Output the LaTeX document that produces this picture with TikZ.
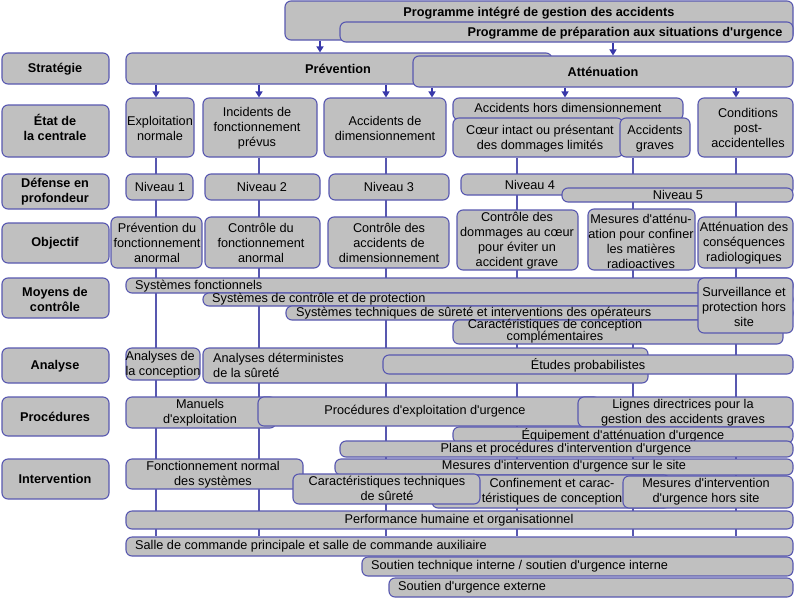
\documentclass[tikz,border=0pt]{standalone}
\usepackage{fontspec}
\setmainfont{Liberation Sans}[Ligatures=TeXOff]
\usetikzlibrary{fit,arrows.meta}
\definecolor{bfill}{HTML}{C0C0C0}
\definecolor{bline}{HTML}{5858B0}
\definecolor{barr}{HTML}{3838AA}
\pgfdeclarelayer{bgw}
\pgfdeclarelayer{bgl}
\pgfsetlayers{bgw,bgl,main}
\tikzset{
  boxst/.style={draw=bline, fill=bfill, line width=1.1pt, rounded corners=6pt, inner sep=0pt},
  txt/.style={inner sep=0pt, align=center, font=\fontsize{12.7}{15}\selectfont},
  lbl/.style={inner sep=0pt, align=center, font=\fontsize{12.7}{15}\selectfont\bfseries},
  arr/.style={draw=barr, line width=1.5pt, -{Triangle[width=7pt,length=6pt]}},
  vl/.style={draw=bline, line width=1.1pt},
}
\newcommand\bx[9][txt]{%
  \node[boxst, fit={(#3,#4) (#5,#6)}] (#2) {};
  \node[#1] (#2-t) at (#7,#8) {#9};
}
\begin{document}
\begin{tikzpicture}[x=1pt,y=-1pt]
\useasboundingbox (0,0) rectangle (800,603);
\begin{pgfonlayer}{bgw}
\fill[white] (0,0) rectangle (800,603);
\end{pgfonlayer}
% left labels
\bx[lbl]{lstrat}{2}{53}{109}{84}{55}{69}{Stratégie}
\bx[lbl]{letat}{2}{105}{109}{157}{55}{127}{État de\\la centrale}
\bx[lbl]{ldef}{2}{174}{109}{209}{55}{192}{Défense en\\profondeur}
\bx[lbl]{lobj}{2}{223}{109}{263}{55}{243}{Objectif}
\bx[lbl]{lmoy}{2}{278}{109}{318}{55}{299}{Moyens de\\contrôle}
\bx[lbl]{lana}{2}{348}{109}{383}{55}{366}{Analyse}
\bx[lbl]{lpro}{2}{397}{109}{436}{55}{417}{Procédures}
\bx[lbl]{lint}{2}{459}{109}{499}{55}{479}{Intervention}
% top
\bx[lbl]{prog1}{285}{1}{793}{40}{539}{13}{Programme intégré de gestion des accidents}
\bx[lbl]{prog2}{340}{22}{793}{42}{625}{33}{Programme de préparation aux situations d'urgence}
\bx[lbl]{prev}{126}{53}{552}{84}{338}{69}{Prévention}
\bx[lbl]{att}{413}{56}{793}{87}{603}{72}{Atténuation}
% state
\bx{expl}{126}{98}{194}{157}{160}{128}{Exploitation\\normale}
\bx{inc}{203}{98}{317}{157}{257}{128}{Incidents de\\fonctionnement\\prévus}
\bx{adim}{324}{98}{446}{157}{385}{128}{Accidents de\\dimensionnement}
\bx{hdim}{453}{98}{683}{120}{568}{108}{Accidents hors dimensionnement}
\bx{coeur}{453}{118}{623}{157}{540}{138.5}{Cœur intact ou présentant\\des dommages limités}
\bx{grav}{620}{118}{690}{157}{655}{138.5}{Accidents\\graves}
\bx{cond}{698}{98}{793}{157}{748}{128}{Conditions\\post-\\accidentelles}
% levels
\bx{n1}{126}{174}{193}{200}{160}{187}{Niveau 1}
\bx{n2}{205}{174}{320}{200}{262}{187}{Niveau 2}
\bx{n3}{329}{174}{449}{200}{389}{187}{Niveau 3}
\bx{n4}{461}{174}{793}{195}{530}{185}{Niveau 4}
\bx{n5}{562}{188}{793}{202}{678}{195}{Niveau 5}
% objectives
\bx{o1}{111}{217}{202}{268}{157}{243}{Prévention du\\fonctionnement\\anormal}
\bx{o2}{205}{217}{320}{268}{261}{243}{Contrôle du\\fonctionnement\\anormal}
\bx{o3}{328}{217}{449}{268}{389}{243}{Contrôle des\\accidents de\\dimensionnement}
\bx{o4}{457}{210}{578}{270}{517}{241}{Contrôle des\\dommages au cœur\\pour éviter un\\accident grave}
\bx{o5}{588}{209}{695}{270}{641}{241}{Mesures d'atténu-\\ation pour confiner\\les matières\\radioactives}
\bx{o6}{698}{217}{793}{268}{744}{243}{Atténuation des\\conséquences\\radiologiques}
% means
\bx[txt,anchor=west]{sf}{126}{278}{793}{293}{135}{286}{Systèmes fonctionnels}
\bx[txt,anchor=west]{scp}{203}{293}{793}{306}{212}{299.5}{Systèmes de contrôle et de protection}
\bx[txt,anchor=west]{sts}{286}{306}{793}{320}{296}{313}{Systèmes techniques de sûreté et interventions des opérateurs}
\bx[txt,font=\fontsize{12.7}{12}\selectfont]{ccc}{453}{320}{783}{344}{555}{331.5}{Caractéristiques de conception\\complémentaires}
\bx{surv}{698}{278}{793}{333}{744}{307}{Surveillance et\\protection hors\\site}
% analysis
\bx[txt,align=left]{anc}{126}{348}{200}{380}{163}{364.5}{Analyses de\\la conception}
\bx[txt,align=left,anchor=west]{andet}{203}{348}{648}{383}{213}{365.5}{Analyses déterministes\\de la sûreté}
\bx{etud}{383}{355}{793}{374}{588}{365}{Études probabilistes}
% procedures
\bx{man}{126}{397}{276}{428}{200}{412.5}{Manuels\\d'exploitation}
\bx{peu}{258}{397}{600}{426}{425}{411}{Procédures d'exploitation d'urgence}
\bx{lign}{578}{397}{793}{427}{683}{412.5}{Lignes directrices pour la\\gestion des accidents graves}
\bx{equip}{453}{427}{793}{443}{623}{435}{Équipement d'atténuation d'urgence}
% intervention
\bx{plans}{340}{441}{793}{457}{566}{449}{Plans et procédures d'intervention d'urgence}
\bx{msite}{335}{459}{793}{475}{564}{466.5}{Mesures d'intervention d'urgence sur le site}
\bx{fnorm}{126}{459}{303}{489}{213}{475}{Fonctionnement normal\\des systèmes}
\bx{conf}{432}{475}{670}{508}{552}{492}{Confinement et carac-\\téristiques de conception}
\bx{ctech}{293}{474}{480}{504}{387}{488.5}{Caractéristiques techniques\\de sûreté}
\bx{mhors}{623}{476}{793}{508}{706}{492}{Mesures d'intervention\\d'urgence hors site}
\bx{perf}{126}{511}{793}{529}{459}{520}{Performance humaine et organisationnel}
\bx[txt,anchor=west]{salle}{126}{537}{793}{556}{135}{546.5}{Salle de commande principale et salle de commande auxiliaire}
\bx[txt,anchor=west]{stech}{362}{557}{793}{576}{371}{566.5}{Soutien technique interne / soutien d'urgence interne}
\bx[txt,anchor=west]{sext}{389}{578}{793}{597}{398}{587.5}{Soutien d'urgence externe}
% columns
\coordinate (kp1) at (320,0);
\coordinate (kp2) at (613,0);
\coordinate (k1) at (156,0);
\coordinate (k2) at (259,0);
\coordinate (k3) at (386,0);
\coordinate (k4) at (517,0);
\coordinate (k5) at (633,0);
\coordinate (k6) at (736,0);
\coordinate (ka) at (432,0);
\coordinate (kb) at (565,0);
\draw[arr] (prog1.south -| kp1) -- (prev.north -| kp1);
\draw[arr] (prog2.south -| kp2) -- (att.north -| kp2);
\draw[arr] (prev.south -| k1) -- (expl.north -| k1);
\draw[arr] (prev.south -| k2) -- (inc.north -| k2);
\draw[arr] (prev.south -| k3) -- (adim.north -| k3);
\draw[arr] (att.south -| ka) -- (adim.north -| ka);
\draw[arr] (att.south -| kb) -- (hdim.north -| kb);
\draw[arr] (att.south -| k6) -- (cond.north -| k6);
\begin{pgfonlayer}{bgl}
\draw[vl] (expl.south -| k1) -- (salle.north -| k1);
\draw[vl] (inc.south -| k2) -- (salle.north -| k2);
\draw[vl] (adim.south -| k3) -- (salle.north -| k3);
\draw[vl] (coeur.south -| k4) -- (salle.north -| k4);
\draw[vl] (grav.south -| k5) -- (salle.north -| k5);
\draw[vl] (cond.south -| k6) -- (salle.north -| k6);
\end{pgfonlayer}
\end{tikzpicture}
\end{document}
